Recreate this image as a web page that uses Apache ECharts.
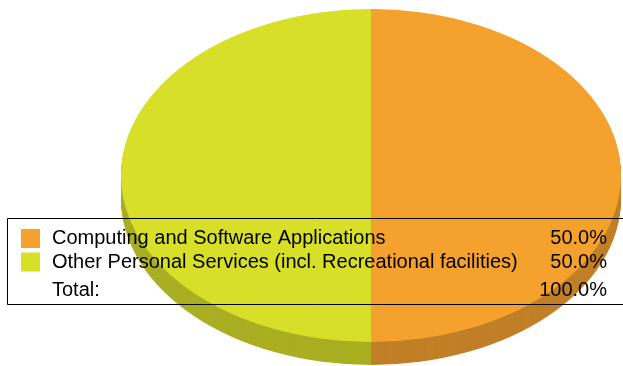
<!DOCTYPE html>
<html>
<head>
<meta charset="utf-8">
<script src="https://cdn.jsdelivr.net/npm/echarts@6/dist/echarts.min.js"></script>
<style>
  html, body { margin: 0; padding: 0; background: #fff; }
  #chart { width: 623px; height: 366px; }
</style>
</head>
<body>
<div id="chart"></div>
<script>
const sliceNames = ['Computing and Software Applications', 'Other Personal Services (incl. Recreational facilities)'];
const sliceValues = [50, 50];
const sliceColors = ['#f5a12e', '#d7df28'];
const sideColors = ['#c17f27', '#a9af22'];
const totalLabel = 'Total:';

const total = sliceValues.reduce((a, c) => a + c, 0);
const pct = v => (v / total * 100).toFixed(1) + '%';

// pie geometry (ellipse + depth)
const cx = 371, cy = 175.5, rx = 250, ry = 166.5, depth = 23;
const font = '20px "Liberation Sans", Arial, sans-serif';

const renderItem = (params, api) => {
  const i = params.dataIndex;
  const before = sliceValues.slice(0, i).reduce((a, c) => a + c, 0);
  const start = -Math.PI / 2 + 2 * Math.PI * before / total;
  const end = start + 2 * Math.PI * api.value(0) / total;
  const children = [];
  for (let k = depth; k >= 1; k--) {
    children.push({
      type: 'sector',
      x: cx, y: cy + k, scaleY: ry / rx,
      shape: { cx: 0, cy: 0, r: rx, r0: 0, startAngle: start, endAngle: end, clockwise: true },
      style: { fill: sideColors[i] },
      z2: 0,
    });
  }
  children.push({
    type: 'sector',
    x: cx, y: cy, scaleY: ry / rx,
    shape: { cx: 0, cy: 0, r: rx, r0: 0, startAngle: start, endAngle: end, clockwise: true },
    style: { fill: sliceColors[i] },
    z2: 10,
  });
  return { type: 'group', children };
};

// legend table as graphic elements
const rowY = [238.5, 262, 290.5];
const legendItems = [];
legendItems.push({
  type: 'rect',
  shape: { x: 7.5, y: 218.5, width: 640, height: 86 },
  style: { fill: 'none', stroke: '#000', lineWidth: 1 },
  z: 100,
});
sliceNames.forEach((name, i) => {
  legendItems.push({
    type: 'rect',
    shape: { x: 21, y: rowY[i] - 9.5, width: 19, height: 19 },
    style: { fill: sliceColors[i] },
    z: 100,
  });
  legendItems.push({
    type: 'text',
    x: 52, y: rowY[i],
    style: { text: name, font, fill: '#000', align: 'left', verticalAlign: 'middle' },
    z: 100,
  });
  legendItems.push({
    type: 'text',
    x: 607, y: rowY[i],
    style: { text: pct(sliceValues[i]), font, fill: '#000', align: 'right', verticalAlign: 'middle' },
    z: 100,
  });
});
legendItems.push({
  type: 'text',
  x: 52, y: rowY[2],
  style: { text: totalLabel, font, fill: '#000', align: 'left', verticalAlign: 'middle' },
  z: 100,
});
legendItems.push({
  type: 'text',
  x: 607, y: rowY[2],
  style: { text: pct(total), font, fill: '#000', align: 'right', verticalAlign: 'middle' },
  z: 100,
});

const chart = echarts.init(document.getElementById('chart'), null, { renderer: 'canvas' });
chart.setOption({
  animation: false,
  backgroundColor: '#fff',
  graphic: legendItems,
  series: [{
    type: 'custom',
    coordinateSystem: 'none',
    renderItem,
    data: sliceValues.map((v, i) => ({ name: sliceNames[i], value: v })),
  }],
});
</script>
</body>
</html>
